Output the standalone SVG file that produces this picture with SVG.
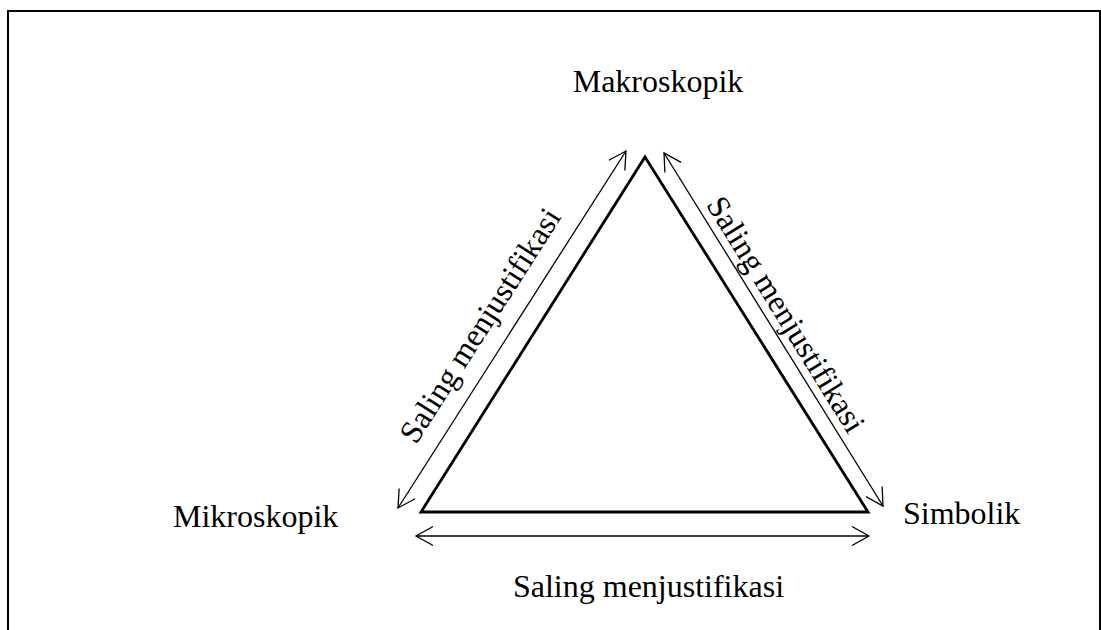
<svg xmlns="http://www.w3.org/2000/svg" width="1101" height="630" viewBox="0 0 1101 630">
<defs>
<style>
.lbl{font-family:"Liberation Serif","Times New Roman",serif;font-size:32px;fill:#000}
.arr{stroke:#000;stroke-width:1.3;fill:none;marker-start:url(#ah);marker-end:url(#ah)}
</style>
<marker id="ah" markerUnits="userSpaceOnUse" viewBox="-20 -12 22 24" refX="0" refY="0" markerWidth="22" markerHeight="24" orient="auto-start-reverse" overflow="visible">
<path d="M-17,-9.5 L0,0 L-17,9.5" fill="none" stroke="#000" stroke-width="1.3"/>
</marker>
</defs>
<rect x="0" y="0" width="1101" height="630" fill="#fff"/>
<path id="frame" d="M8,630 V11 H1100 V630" fill="none" stroke="#000" stroke-width="2"/>
<g id="triangle">
<polygon points="645,157 868,512 421,512" fill="none" stroke="#000" stroke-width="2.8" stroke-linejoin="miter"/>
</g>
<g id="connectors">
<line class="arr" x1="398" y1="508" x2="626" y2="151"/>
<line class="arr" x1="664" y1="153" x2="883" y2="506"/>
<line class="arr" x1="416" y1="536" x2="869" y2="536"/>
</g>
<g id="node-makroskopik"><text class="lbl" x="658" y="92" text-anchor="middle">Makroskopik</text></g>
<g id="node-mikroskopik"><text class="lbl" x="173" y="527">Mikroskopik</text></g>
<g id="node-simbolik"><text class="lbl" x="903" y="524">Simbolik</text></g>
<g id="edge-labels">
<text class="lbl" text-anchor="middle" transform="translate(489,331) rotate(-57.4)">Saling menjustifikasi</text>
<text class="lbl" text-anchor="middle" transform="translate(777,320) rotate(58.2)">Saling menjustifikasi</text>
<text class="lbl" x="648.5" y="597" text-anchor="middle">Saling menjustifikasi</text>
</g>
</svg>
